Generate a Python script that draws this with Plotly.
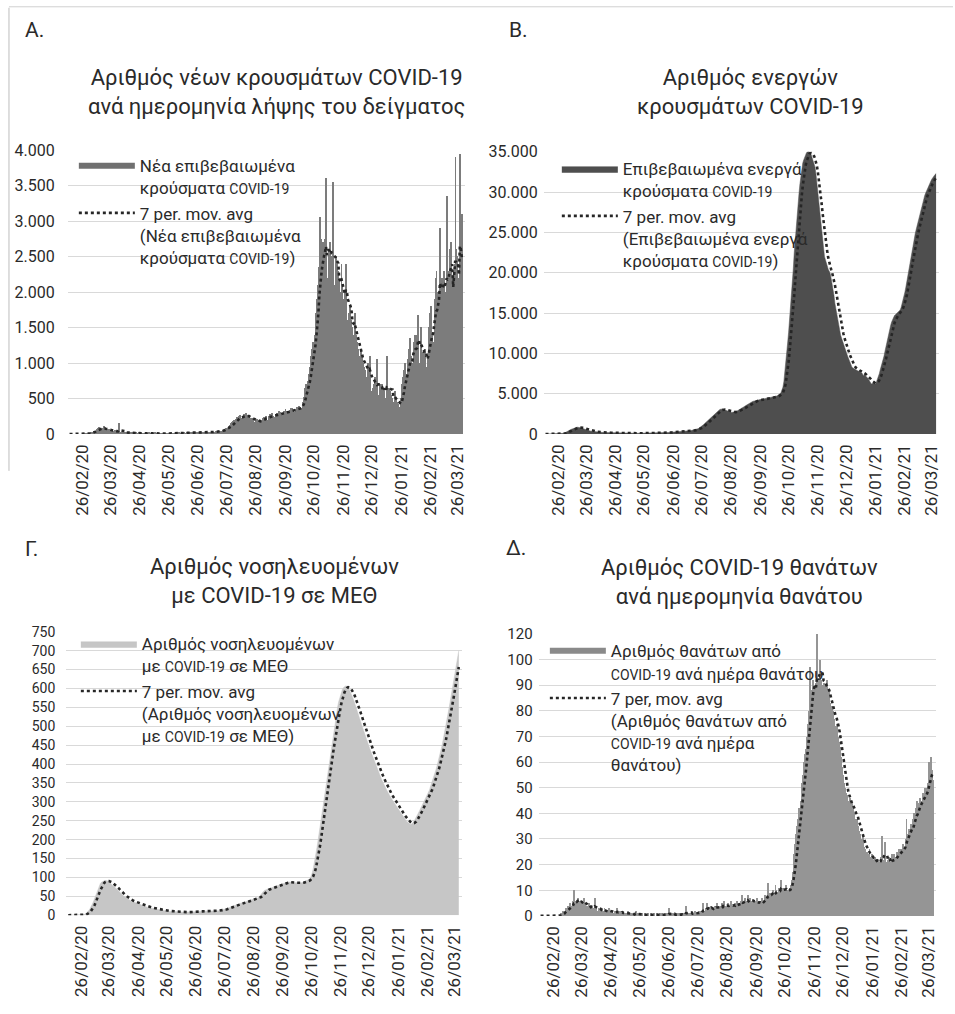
import pandas as pd
import plotly.graph_objects as go

# ---------------- DATA (daily, starting 12/02/2020) ----------------
START_DATE = "2020-02-12"
TICK_FIRST = "2020-02-26"
N_TICKS = 14

# A. New confirmed cases by sample date
new_cases = [
    0, 0, 0, 0, 0, 0, 0,
    0, 0, 0, 0, 0, 0, 0,
    1, 2, 0, 3, 0, 1, 2,
    12, 18, 25, 30, 35, 40, 45,
    60, 75, 90, 100, 70, 55, 80,
    85, 110, 70, 60, 50, 65, 75,
    55, 40, 45, 35, 30, 50, 45,
    40, 35, 30, 150, 25, 20, 30,
    25, 20, 22, 18, 15, 20, 18,
    20, 25, 15, 18, 12, 15, 20,
    15, 12, 10, 14, 18, 10, 12,
    10, 12, 8, 6, 10, 12, 15,
    10, 8, 12, 9, 6, 10, 14,
    12, 10, 8, 6, 9, 11, 13,
    8, 10, 12, 9, 7, 6, 10,
    9, 12, 14, 10, 8, 6, 11,
    12, 10, 15, 14, 9, 8, 13,
    14, 18, 12, 10, 15, 17, 20,
    18, 16, 20, 25, 22, 15, 19,
    20, 22, 18, 15, 25, 28, 20,
    18, 22, 25, 20, 15, 18, 24,
    25, 30, 28, 35, 30, 26, 32,
    35, 40, 38, 45, 42, 36, 48,
    55, 70, 65, 80, 90, 75, 85,
    110, 130, 150, 170, 180, 200, 190,
    210, 240, 220, 250, 270, 230, 200,
    260, 280, 250, 290, 270, 230, 210,
    240, 220, 200, 230, 210, 170, 160,
    190, 210, 200, 180, 170, 150, 190,
    220, 240, 230, 260, 250, 200, 190,
    250, 280, 270, 300, 260, 220, 240,
    280, 300, 290, 320, 310, 250, 270,
    300, 330, 310, 350, 320, 270, 300,
    320, 340, 360, 370, 330, 290, 310,
    350, 380, 370, 400, 360, 320, 360,
    450, 520, 600, 650, 700, 650, 750,
    850, 950, 1100, 1200, 1300, 1150, 1400,
    1700, 1900, 2100, 2350, 3050, 2750, 1800,
    2500, 2700, 2400, 2750, 3600, 1900, 2200,
    2600, 2700, 2500, 2300, 3550, 1800, 2100,
    2500, 2400, 2300, 2200, 2000, 1600, 2400,
    2100, 1900, 1800, 2000, 2400, 1500, 1600,
    1700, 1800, 1600, 1500, 1300, 1400, 1700,
    1400, 1300, 1200, 1100, 1000, 900, 1200,
    1100, 1000, 950, 900, 800, 750, 1000,
    900, 1100, 600, 500, 650, 700, 800,
    750, 1050, 400, 550, 650, 700, 600,
    700, 650, 600, 500, 450, 1100, 550,
    650, 600, 550, 500, 450, 400, 600,
    500, 450, 400, 420, 380, 350, 500,
    700, 800, 900, 1000, 850, 600, 1050,
    1200, 1350, 1100, 1000, 900, 1300, 1400,
    1300, 1400, 1200, 1670, 1000, 800, 1500,
    1100, 1150, 1050, 1200, 950, 850, 1100,
    1500, 1700, 1800, 1400, 1300, 1200, 1900,
    2200, 2300, 1900, 2000, 1700, 2900, 1600,
    2200, 2100, 2300, 1800, 2000, 3350, 1500,
    2300, 2600, 2700, 2200, 2100, 1100, 2400,
    3900, 2600, 2500, 2200, 1000, 3950, 2100,
    3100,
]

# B. Active confirmed cases
active_cases = [
    0, 0, 0, 0, 0, 0, 0, 0, 0, 0, 0, 0, 0, 0,
    10, 20, 30, 40,
    60, 90, 130, 180, 240, 300, 370, 440, 510, 580, 640, 700, 750, 790, 820, 840,
    850, 840, 820, 790, 750, 700, 650, 600, 560, 520, 480, 450, 420, 390, 360,
    340, 320, 300, 285, 270, 255, 240, 230, 220, 210, 200, 195, 190, 185, 180,
    175, 170, 165, 160, 155, 150, 150, 145, 145, 140, 140, 135, 135, 130, 130,
    130, 128, 126, 124, 122, 120, 118, 116, 114, 112, 110, 108, 106, 104, 102, 100,
    100, 100, 100, 100, 100, 100, 100, 102, 104, 106, 108, 110, 112, 114, 116,
    118, 120, 122, 125, 128, 131, 134, 137, 140, 144, 148, 152, 156, 160, 165,
    170, 175, 180, 186, 192, 198, 205, 212, 220, 228, 236, 245, 254, 263, 272,
    282, 292, 302, 312, 322, 332, 342, 352, 362, 372, 384, 396, 410, 425, 440, 460,
    480, 505, 530, 560, 600, 650, 710, 780, 860, 950, 1050, 1160, 1270, 1380, 1500,
    1620, 1740, 1860, 1980, 2100, 2220, 2340, 2460, 2570, 2680, 2780, 2870, 2950,
    3020, 3070, 3100, 3090, 3060, 3010, 2960, 2900, 2850, 2800, 2760, 2720, 2700,
    2690, 2700, 2720, 2760, 2800,
    2850, 2900, 2960, 3020, 3090, 3160, 3240, 3320, 3400, 3480, 3560, 3640, 3720,
    3800, 3870, 3930, 3990, 4040, 4080, 4120, 4160, 4190, 4220, 4250, 4270, 4290,
    4310, 4330, 4350, 4370,
    4400, 4420, 4440, 4460, 4480, 4500, 4510, 4520, 4540, 4560, 4600, 4650, 4700,
    4760, 4820, 4900, 5000, 5150, 5400, 5800, 6500, 7500, 8700, 10000, 11300,
    12600, 14000, 15500, 17000, 18700, 20500,
    22500, 24200, 25800, 27300, 28600, 29800, 31000, 32100, 33000, 33600, 34000,
    34400, 34700, 34900, 35000, 35100, 35000, 34900, 34600, 34200, 33900, 33500,
    33100, 32200, 31000, 29400, 28300, 27200, 26200, 25300,
    24200, 23100, 22000, 21500, 21000, 20700, 20400, 20200, 19900, 19300, 18700,
    18000, 17200, 16200, 15500, 14800, 14100, 13400, 12800, 12300, 11900, 11500,
    11100, 10700, 10400, 10100, 9800, 9500, 9200, 8700, 8500,
    8300, 8200, 8100, 8000, 7950, 7900, 7850, 7800, 7750, 7700, 7600, 7500, 7200,
    7400, 7300, 7100, 7000, 6900, 6700, 6400, 6300, 6200, 6300, 6400, 6300, 6200,
    6500, 6800, 7100, 7500, 8000,
    8400, 8800, 9100, 9700, 10300, 10900, 11500, 12000, 12500, 13000, 13500, 13900,
    14200, 14500, 14700, 14800, 14900, 15000, 15100, 15200, 15400, 15700, 16100,
    16600, 17100, 17600, 18200, 18900,
    19700, 20400, 21100, 21900, 22600, 23200, 23800, 24400, 24900, 25400, 25900,
    26400, 26900, 27400, 27900, 28400, 28900, 29400, 29600, 29900, 30200, 30500,
    30700, 30900, 31200, 31500, 31700, 31900, 32000, 32200, 32300,
]

# C. Patients with COVID-19 in ICU
icu_patients = [
    0, 0, 0, 0, 0, 0, 0, 0, 0, 0, 0, 0, 0, 0,
    0, 0, 1, 2,
    3, 5, 7, 10, 13, 17, 21, 26, 32, 38, 45, 52, 60, 68, 75, 80, 84, 87, 89, 90,
    91, 92, 92, 91, 90, 88, 86, 84, 82, 80, 78,
    75, 72, 70, 67, 64, 61, 58, 56, 54, 52, 50, 48, 46, 44, 42, 40, 39, 38, 37, 36,
    35, 34, 33, 32, 31, 30, 29, 28, 27, 26,
    25, 24, 23, 22, 22, 21, 20, 20, 19, 19, 18, 18, 17, 17, 16, 16, 15, 15, 14, 14,
    13, 13, 12, 12, 12, 11, 11, 11, 10, 10, 10,
    10, 10, 9, 9, 9, 9, 9, 8, 8, 8, 8, 8, 8, 8, 8, 8, 8, 8, 8, 8, 9, 9, 9, 9, 9, 9,
    10, 10, 10, 10,
    10, 10, 10, 10, 10, 10, 10, 11, 11, 11, 11, 11, 11, 12, 12, 12, 12, 12, 12, 12,
    13, 13, 14, 14, 15, 15, 16, 17, 18, 19, 20,
    21, 22, 23, 24, 25, 26, 27, 28, 29, 30, 31, 32, 33, 33, 34, 35, 35, 36, 37, 38,
    39, 40, 41, 42, 43, 43, 44, 44, 45, 45, 46,
    48, 52, 56, 60, 63, 65, 66, 67, 68, 69, 70, 71, 72, 73, 74, 75, 75, 76, 77, 78,
    79, 80, 81, 82, 83, 84, 85, 86, 87, 88,
    88, 88, 88, 87, 87, 86, 86, 85, 85, 85, 85, 85, 85, 85, 86, 86, 87, 88, 89, 90,
    91, 92, 93, 95, 98, 104, 112, 122, 134, 148, 162,
    178, 195, 212, 230, 248, 266, 284, 302, 320, 338, 356, 374, 392, 410, 428, 446,
    463, 480, 495, 510, 525, 540, 553, 565, 575, 584, 592, 598, 602, 605,
    606, 606, 605, 602, 598, 593, 587, 581, 575, 568, 561, 554, 546, 538, 530, 522,
    514, 506, 498, 490, 482, 475, 468, 461, 454, 447, 440, 433, 426, 419, 412,
    405, 398, 392, 386, 380, 374, 368, 362, 356, 350, 345, 340, 335, 330, 325, 320,
    316, 312, 308, 304, 300, 296, 292, 288, 284, 280, 276, 272, 268, 264, 260,
    257, 254, 251, 248, 246, 244, 242, 240, 241, 243, 246, 250, 254, 259, 264, 269,
    274, 279, 284, 289, 294, 299, 304, 309, 314, 319, 325, 331,
    340, 347, 354, 361, 369, 377, 386, 395, 404, 414, 424, 435, 446, 458, 470, 483,
    496, 510, 524, 538, 552, 567, 582, 597, 612, 627, 642, 657, 672, 686, 700,
]

# D. COVID-19 deaths by date of death
deaths = [
    0, 0, 0, 0, 0, 0, 0,
    0, 0, 0, 0, 0, 0, 0,
    0, 0, 0, 0, 0, 0, 0,
    1, 0, 2, 1, 2, 3, 2,
    3, 4, 2, 5, 4, 3, 6,
    10, 5, 6, 4, 7, 5, 6,
    5, 6, 4, 7, 5, 3, 4,
    3, 4, 5, 2, 3, 4, 3,
    2, 7, 3, 2, 1, 3, 2,
    2, 3, 1, 2, 3, 2, 1,
    2, 1, 3, 2, 1, 2, 1,
    1, 2, 1, 3, 1, 1, 2,
    1, 0, 2, 1, 1, 0, 1,
    1, 2, 0, 1, 1, 0, 1,
    0, 1, 2, 1, 0, 1, 0,
    1, 0, 1, 0, 0, 1, 0,
    0, 1, 0, 0, 1, 0, 0,
    1, 0, 0, 1, 0, 0, 1,
    0, 0, 1, 0, 0, 1, 0,
    1, 0, 3, 0, 1, 0, 1,
    0, 1, 0, 1, 0, 1, 0,
    1, 0, 1, 0, 1, 0, 4,
    1, 0, 1, 1, 0, 2, 1,
    1, 2, 1, 0, 1, 2, 1,
    2, 1, 2, 5, 1, 2, 3,
    5, 2, 3, 2, 4, 3, 2,
    3, 4, 2, 5, 3, 4, 3,
    4, 3, 5, 2, 6, 3, 4,
    3, 5, 4, 3, 6, 4, 3,
    4, 5, 3, 6, 4, 5, 4,
    5, 6, 8, 4, 5, 7, 5,
    6, 8, 5, 7, 6, 5, 6,
    5, 6, 4, 5, 7, 4, 5,
    6, 5, 7, 6, 5, 8, 6,
    7, 13, 8, 9, 6, 8, 10,
    9, 8, 12, 10, 9, 7, 11,
    10, 14, 9, 11, 10, 8, 12,
    9, 10, 9, 11, 12, 14, 17,
    20, 24, 28, 32, 35, 38, 42,
    40, 45, 52, 55, 60, 63, 65,
    70, 75, 80, 97, 85, 88, 90,
    92, 90, 88, 91, 110, 89, 93,
    100, 92, 90, 88, 91, 87, 90,
    92, 85, 88, 83, 80, 78, 82,
    80, 77, 74, 72, 75, 70, 68,
    66, 62, 58, 55, 52, 50, 48,
    47, 45, 43, 46, 42, 40, 44,
    42, 40, 38, 36, 38, 35, 33,
    32, 30, 28, 31, 27, 26, 25,
    25, 24, 22, 26, 23, 21, 24,
    22, 20, 23, 21, 19, 22, 20,
    21, 23, 31, 20, 22, 29, 19,
    21, 22, 20, 23, 21, 19, 24,
    22, 24, 21, 23, 25, 22, 26,
    24, 26, 25, 28, 27, 26, 30,
    38, 30, 32, 34, 31, 36, 35,
    38, 40, 37, 42, 45, 40, 44,
    46, 45, 43, 48, 47, 50, 46,
    48, 50, 52, 60, 55, 62, 57,
    53,
]

# Y tick labels of panel D as printed (top label reads 120)
deaths_tickvals = [0, 10, 20, 30, 40, 50, 60, 70, 80, 90, 100, 110]
deaths_ticktext = ["0", "10", "20", "30", "40", "50", "60", "70", "80", "90", "100", "120"]

# Text
CV = '<span style="font-size:14px">COVID-19</span>'
titles = [
    "Αριθμός νέων κρουσμάτων COVID-19<br>ανά ημερομηνία λήψης του δείγματος",
    "Αριθμός ενεργών<br>κρουσμάτων COVID-19",
    "Αριθμός νοσηλευομένων<br>με COVID-19 σε ΜΕΘ",
    "Αριθμός COVID-19 θανάτων<br>ανά ημερομηνία θανάτου",
]
panel_labels = ["Α.", "Β.", "Γ.", "Δ."]
series_names = [
    "Νέα επιβεβαιωμένα<br>κρούσματα " + CV,
    "Επιβεβαιωμένα ενεργά<br>κρούσματα " + CV,
    "Αριθμός νοσηλευομένων<br>με " + CV + " σε ΜΕΘ",
    "Αριθμός θανάτων από<br>" + CV + " ανά ημέρα θανάτου",
]
ma_names = [
    "7 per. mov. avg<br>(Νέα επιβεβαιωμένα<br>κρούσματα " + CV + ")",
    "7 per. mov. avg<br>(Επιβεβαιωμένα ενεργά<br>κρούσματα " + CV + ")",
    "7 per. mov. avg<br>(Αριθμός νοσηλευομένων<br>με " + CV + " σε ΜΕΘ)",
    "7 per, mov. avg<br>(Αριθμός θανάτων από<br>" + CV + " ανά ημέρα<br>θανάτου)",
]

# ---------------- HELPERS ----------------
W, H = 955, 1014
# the photographed page shows the figure shifted/squeezed vertically; positions
# below are given in photo pixels and converted back to figure pixels
Y_OFF, Y_SCALE = 9.2, 0.979
FONT = "Roboto, 'Liberation Sans', sans-serif"
TXT = "#2a2a2a"
GRID = "#d9d9d9"
MA_COLOR = "#262626"


def px_x(v):
    return v / W


def px_y(v):
    return 1 - ((v - Y_OFF) / Y_SCALE) / H


def dates_for(values):
    return pd.date_range(START_DATE, periods=len(values), freq="D")


def ma7(values):
    return pd.Series(values, dtype=float).rolling(7, min_periods=1).mean()


tick_vals = pd.date_range(TICK_FIRST, periods=N_TICKS, freq=pd.DateOffset(months=1))
tick_text = [d.strftime("%d/%m/%y") for d in tick_vals]
X_RANGE = ["2020-02-10", "2021-04-03"]

fig = go.Figure()

# Panel A: bars + MA
dA = dates_for(new_cases)
fig.add_trace(go.Bar(x=dA, y=new_cases, marker=dict(color="#7c7c7c", line=dict(width=0)),
                     showlegend=False, xaxis="x", yaxis="y"))
fig.add_trace(go.Scatter(x=[None], y=[None], mode="lines", name=series_names[0],
                         line=dict(color="#707070", width=6), legend="legend",
                         xaxis="x", yaxis="y"))
fig.add_trace(go.Scatter(x=dA, y=ma7(new_cases), mode="lines", name=ma_names[0],
                         line=dict(color=MA_COLOR, width=2.6, dash="dot"), legend="legend",
                         xaxis="x", yaxis="y"))

# Panel B: area + MA
dB = dates_for(active_cases)
fig.add_trace(go.Scatter(x=dB, y=active_cases, mode="lines", name=series_names[1],
                         line=dict(color="#4e4e4e", width=0.5), fill="tozeroy",
                         fillcolor="#4e4e4e", legend="legend2", xaxis="x2", yaxis="y2"))
fig.add_trace(go.Scatter(x=dB, y=ma7(active_cases), mode="lines", name=ma_names[1],
                         line=dict(color=MA_COLOR, width=2.6, dash="dot"), legend="legend2",
                         xaxis="x2", yaxis="y2"))

# Panel C: area + MA
dC = dates_for(icu_patients)
fig.add_trace(go.Scatter(x=dC, y=icu_patients, mode="lines", name=series_names[2],
                         line=dict(color="#c6c6c6", width=0.5), fill="tozeroy",
                         fillcolor="#c6c6c6", legend="legend3", xaxis="x3", yaxis="y3"))
fig.add_trace(go.Scatter(x=dC, y=ma7(icu_patients), mode="lines", name=ma_names[2],
                         line=dict(color=MA_COLOR, width=2.6, dash="dot"), legend="legend3",
                         xaxis="x3", yaxis="y3"))

# Panel D: bars + MA
dD = dates_for(deaths)
fig.add_trace(go.Bar(x=dD, y=deaths, marker=dict(color="#959595", line=dict(width=0)),
                     showlegend=False, xaxis="x4", yaxis="y4"))
fig.add_trace(go.Scatter(x=[None], y=[None], mode="lines", name=series_names[3],
                         line=dict(color="#8a8a8a", width=6), legend="legend4",
                         xaxis="x4", yaxis="y4"))
fig.add_trace(go.Scatter(x=dD, y=ma7(deaths), mode="lines", name=ma_names[3],
                         line=dict(color=MA_COLOR, width=2.6, dash="dot"), legend="legend4",
                         xaxis="x4", yaxis="y4"))

# ---------------- AXES ----------------
xdom = {
    "A": [px_x(67.8), px_x(465.6)],
    "B": [px_x(544.8), px_x(940.9)],
    "C": [px_x(66.5), px_x(462.6)],
    "D": [px_x(539.8), px_x(937.6)],
}
ydom = {
    "A": [px_y(433.3), px_y(150.0)],
    "B": [px_y(433.3), px_y(151.7)],
    "C": [px_y(913.3), px_y(630.5)],
    "D": [px_y(914.0), px_y(632.7)],
}


def xaxis_cfg(dom, anchor):
    return dict(domain=dom, anchor=anchor, type="date", range=X_RANGE,
                tickmode="array", tickvals=tick_vals, ticktext=tick_text,
                tickangle=-90, showgrid=False, zeroline=False, showline=False,
                ticks="", ticklabelstandoff=6,
                tickfont=dict(family=FONT, size=17, color=TXT), fixedrange=True)


def yaxis_cfg(dom, anchor, rng, size, **kw):
    d = dict(domain=dom, anchor=anchor, range=rng, showgrid=True, gridcolor=GRID,
             gridwidth=1, zeroline=False, showline=False, ticks="",
             tickfont=dict(family=FONT, size=size, color=TXT), fixedrange=True)
    d.update(kw)
    return d


layout = dict(
    width=W, height=H, autosize=False,
    margin=dict(l=0, r=0, t=0, b=0),
    paper_bgcolor="white", plot_bgcolor="white",
    separators=",.",
    bargap=0,
    showlegend=True,
    xaxis=xaxis_cfg(xdom["A"], "y"),
    yaxis=yaxis_cfg(ydom["A"], "x", [0, 4000], 16, dtick=500, tickformat=",",
                    ticklabelstandoff=12),
    xaxis2=xaxis_cfg(xdom["B"], "y2"),
    yaxis2=yaxis_cfg(ydom["B"], "x2", [0, 35000], 16, dtick=5000, tickformat=",",
                     ticklabelstandoff=5),
    xaxis3=xaxis_cfg(xdom["C"], "y3"),
    yaxis3=yaxis_cfg(ydom["C"], "x3", [0, 750], 14, dtick=50, ticklabelstandoff=10),
    xaxis4=xaxis_cfg(xdom["D"], "y4"),
    yaxis4=yaxis_cfg(ydom["D"], "x4", [0, 110], 15, tickmode="array",
                     tickvals=deaths_tickvals, ticktext=deaths_ticktext, ticklabelstandoff=5),
)


def legend_cfg(x, y):
    return dict(x=px_x(x), y=px_y(y), xanchor="left", yanchor="top",
                bgcolor="rgba(0,0,0,0)", borderwidth=0, itemwidth=56, valign="top",
                tracegroupgap=0, traceorder="normal",
                font=dict(family=FONT, size=17, color=TXT), itemclick=False,
                itemdoubleclick=False)


layout["legend"] = legend_cfg(74, 148)
layout["legend2"] = legend_cfg(558, 151)
layout["legend3"] = legend_cfg(76, 625)
layout["legend4"] = legend_cfg(546, 632)

fig.update_layout(**layout)

# Titles and panel labels
title_pos = [(277, 92.5), (752, 92), (275, 580), (741, 581)]
label_pos = [(23, 30), (508, 30), (23, 548), (505, 547)]
for t, (tx, ty) in zip(titles, title_pos):
    fig.add_annotation(text=t, x=px_x(tx), y=px_y(ty), xref="paper", yref="paper",
                       xanchor="center", yanchor="middle", showarrow=False, align="center",
                       font=dict(family=FONT, size=22, color=TXT))
for t, (tx, ty) in zip(panel_labels, label_pos):
    fig.add_annotation(text=t, x=px_x(tx), y=px_y(ty), xref="paper", yref="paper",
                       xanchor="left", yanchor="middle", showarrow=False,
                       font=dict(family=FONT, size=21, color=TXT))

# faint page border from the scan
fig.add_shape(type="line", xref="paper", yref="paper", x0=px_x(9), x1=px_x(9),
              y0=px_y(8), y1=px_y(470), line=dict(color="#bdbdbd", width=1))
fig.add_shape(type="line", xref="paper", yref="paper", x0=px_x(9), x1=1,
              y0=px_y(7), y1=px_y(7), line=dict(color="#d0d0d0", width=1))

fig.write_html(
    "out.html",
    config={"displayModeBar": False},
    post_script="document.body.style.margin='0';document.body.style.overflow='hidden';",
)
